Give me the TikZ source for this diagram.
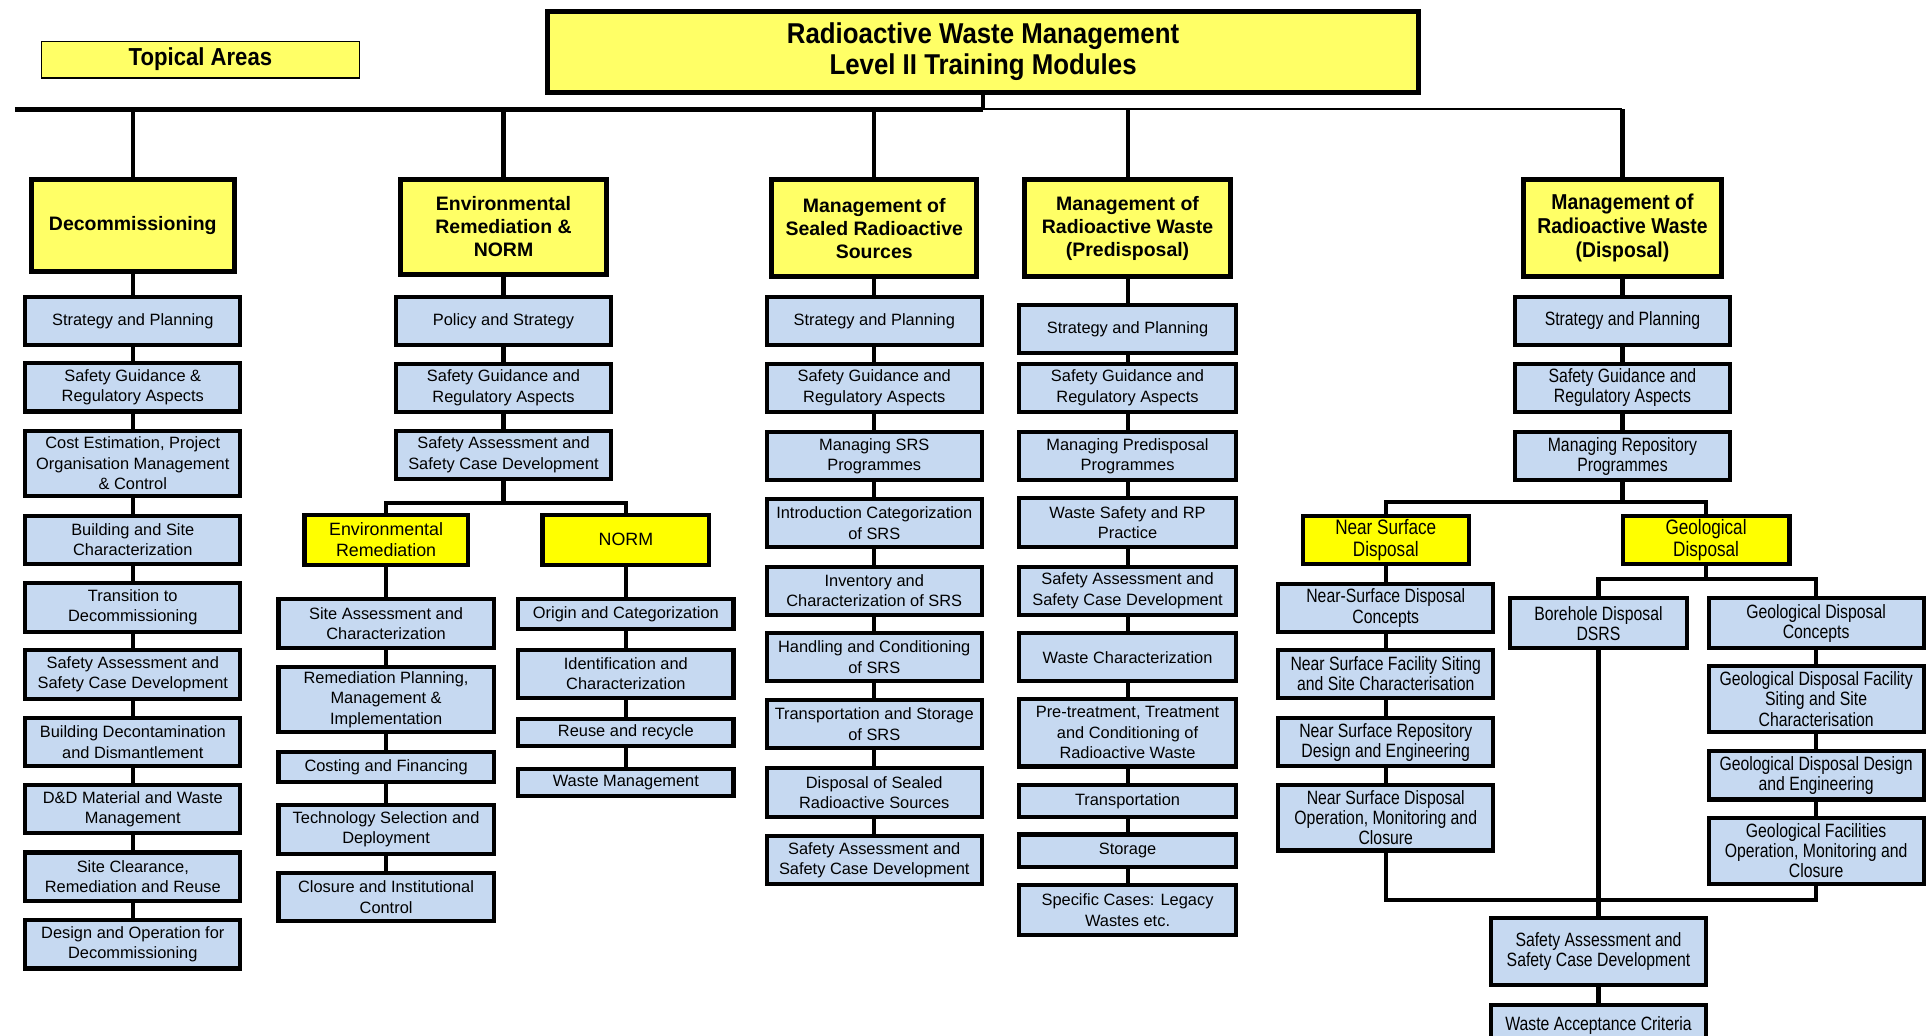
\documentclass[tikz,border=0pt]{standalone}
\usepackage{fontspec}
\setmainfont{Liberation Sans}
\newfontfamily\narrowfont{Liberation Sans}[FakeStretch=0.82]
\newfontfamily\titlefamily{Liberation Sans}[FakeStretch=0.9]
\definecolor{modblue}{RGB}{198,217,241}
\definecolor{topyellow}{RGB}{255,255,102}
\definecolor{subyellow}{RGB}{255,255,0}
\tikzset{
  module/.style={draw, line width=2pt, fill=modblue, align=center, inner sep=1pt,
    minimum width=105pt, font=\fontsize{8}{10}\selectfont},
  repo/.style={module, font=\narrowfont\fontsize{9.4}{9.8}\selectfont},
  area/.style={draw, line width=2.4pt, fill=topyellow, align=center, inner sep=1pt,
    font=\fontsize{9.5}{11.2}\selectfont\bfseries},
  branch/.style={draw, line width=2pt, fill=subyellow, align=center, inner sep=1pt,
    font=\fontsize{8.7}{10.2}\selectfont},
  repobranch/.style={branch, font=\narrowfont\fontsize{10.2}{10.6}\selectfont},
  rows1/.style={minimum height=14.5pt},
  rows2/.style={minimum height=23.6pt},
  rows3/.style={minimum height=32pt},
  link/.style={line width=2pt}
}
\begin{document}
\begin{tikzpicture}[x=0.6pt, y=-0.6pt]
\useasboundingbox (0,0) rectangle (1568,842);

\node[draw, line width=2.4pt, fill=topyellow, minimum width=425pt, minimum height=39.6pt, align=center,
  font=\titlefamily\fontsize{14}{15}\selectfont\bfseries] (title) at (799.5,42)
  {Radioactive Waste Management\\Level II Training Modules};
\node[draw, line width=0.6pt, fill=topyellow, minimum width=155.4pt, minimum height=16.8pt,
  font=\titlefamily\fontsize{12}{14}\selectfont\bfseries] (legend) at (163,48.5) {Topical Areas};

% topical areas
\node[area, minimum width=99pt, minimum height=45pt] (h1) at (108,183.5) {Decommissioning};
\node[area, minimum width=100.2pt, minimum height=46.2pt] (h2) at (409.5,184.5) {Environmental\\Remediation \&\\NORM};
\node[area, minimum width=100.2pt, minimum height=47.4pt] (h3) at (711,185.5) {Management of\\Sealed Radioactive\\Sources};
\node[area, minimum width=100.8pt, minimum height=47.4pt] (h4) at (917,185.5) {Management of\\Radioactive Waste\\(Predisposal)};
\node[area, minimum width=96.6pt, minimum height=47.4pt,
  font=\titlefamily\fontsize{10.5}{11.8}\selectfont\bfseries] (h5) at (1319.5,185.5) {Management of\\Radioactive Waste\\(Disposal)};

\coordinate (busL) at (12,89);
\coordinate (busM) at (799.5,89);
\coordinate (busR) at (1319.5,89);
\draw[line width=2.4pt] (busL) -- (busM);
\draw[line width=1pt] (busM) -- (busR);
\draw[link] (title) -- (busM);
\draw[link] (busR) -- (h5);
\foreach \h in {h1,h2,h3,h4}
  \draw[link] (\h.north |- busL) -- (\h);

% decommissioning
\node[module, rows2] (d1) at (108,261) {Strategy and Planning};
\node[module, rows2] (d2) at (108,315) {Safety Guidance \&\\Regulatory Aspects};
\node[module, rows3] (d3) at (108,377) {Cost Estimation, Project\\Organisation Management\\\& Control};
\node[module, rows2] (d4) at (108,439) {Building and Site\\Characterization};
\node[module, rows2] (d5) at (108,494) {Transition to\\Decommissioning};
\node[module, rows2] (d6) at (108,548.5) {Safety Assessment and\\Safety Case Development};
\node[module, rows2] (d7) at (108,603.5) {Building Decontamination\\and Dismantlement};
\node[module, rows2] (d8) at (108,658) {D\&D Material and Waste\\Management};
\node[module, rows2] (d9) at (108,713) {Site Clearance,\\Remediation and Reuse};
\node[module, rows2] (d10) at (108,768) {Design and Operation for\\Decommissioning};
\foreach \a/\b in {h1/d1,d1/d2,d2/d3,d3/d4,d4/d5,d5/d6,d6/d7,d7/d8,d8/d9,d9/d10}
  \draw[link] (\a) -- (\b);

% environmental remediation and NORM
\node[module, rows2] (e1) at (409.5,261) {Policy and Strategy};
\node[module, rows2] (e2) at (409.5,315.5) {Safety Guidance and\\Regulatory Aspects};
\node[module, rows2] (e3) at (409.5,370) {Safety Assessment and\\Safety Case Development};
\node[branch, minimum width=79.6pt, minimum height=24.4pt] (er) at (314,439) {Environmental\\Remediation};
\node[branch, minimum width=81.4pt, minimum height=24.4pt] (nm) at (509,439) {NORM};
\coordinate (esplit) at (409.5,409);
\foreach \a/\b in {h2/e1,e1/e2,e2/e3,e3/esplit}
  \draw[link] (\a) -- (\b);
\draw[link] (er.north) |- (esplit) -| (nm.north);

\node[module, rows2] (r1) at (314,507) {Site Assessment and\\Characterization};
\node[module, rows3] (r2) at (314,569) {Remediation Planning,\\Management \&\\Implementation};
\node[module, minimum height=14.8pt] (r3) at (314,624) {Costing and Financing};
\node[module, rows2] (r4) at (314,674.5) {Technology Selection and\\Deployment};
\node[module, rows2] (r5) at (314,729.5) {Closure and Institutional\\Control};
\node[module, rows1] (n1) at (509,499.5) {Origin and Categorization};
\node[module, rows2] (n2) at (509,548) {Identification and\\Characterization};
\node[module, minimum height=13pt] (n3) at (509,595.5) {Reuse and recycle};
\node[module, minimum height=13pt] (n4) at (509,636.5) {Waste Management};
\foreach \a/\b in {er/r1,r1/r2,r2/r3,r3/r4,r4/r5,nm/n1,n1/n2,n2/n3,n3/n4}
  \draw[link] (\a) -- (\b);

% sealed radioactive sources
\node[module, rows2] (s1) at (711,261) {Strategy and Planning};
\node[module, rows2] (s2) at (711,315.5) {Safety Guidance and\\Regulatory Aspects};
\node[module, rows2] (s3) at (711,371) {Managing SRS\\Programmes};
\node[module, rows2] (s4) at (711,425.5) {Introduction Categorization\\of SRS};
\node[module, rows2] (s5) at (711,480.5) {Inventory and\\Characterization of SRS};
\node[module, rows2] (s6) at (711,534.5) {Handling and Conditioning\\of SRS};
\node[module, rows2] (s7) at (711,589) {Transportation and Storage\\of SRS};
\node[module, rows2] (s8) at (711,644.5) {Disposal of Sealed\\Radioactive Sources};
\node[module, rows2] (s9) at (711,699.5) {Safety Assessment and\\Safety Case Development};
\foreach \a/\b in {h3/s1,s1/s2,s2/s3,s3/s4,s4/s5,s5/s6,s6/s7,s7/s8,s8/s9}
  \draw[link] (\a) -- (\b);

% predisposal
\node[module, rows2, minimum width=106pt] (p1) at (917,267.5) {Strategy and Planning};
\node[module, rows2, minimum width=106pt] (p2) at (917,315.5) {Safety Guidance and\\Regulatory Aspects};
\node[module, rows2, minimum width=106pt] (p3) at (917,371) {Managing Predisposal\\Programmes};
\node[module, rows2, minimum width=106pt] (p4) at (917,425) {Waste Safety and RP\\Practice};
\node[module, rows2, minimum width=106pt] (p5) at (917,480.5) {Safety Assessment and\\Safety Case Development};
\node[module, rows2, minimum width=106pt] (p6) at (917,534.5) {Waste Characterization};
\node[module, minimum height=32.8pt, minimum width=106pt] (p7) at (917,596) {Pre-treatment, Treatment\\and Conditioning of\\Radioactive Waste};
\node[module, minimum height=15.4pt, minimum width=106pt] (p8) at (917,651.5) {Transportation};
\node[module, minimum height=16pt, minimum width=106pt] (p9) at (917,692) {Storage};
\node[module, minimum height=24.4pt, minimum width=106pt] (p10) at (917,740) {Specific Cases: Legacy\\Wastes etc.};
\foreach \a/\b in {h4/p1,p1/p2,p2/p3,p3/p4,p4/p5,p5/p6,p6/p7,p7/p8,p8/p9,p9/p10}
  \draw[link] (\a) -- (\b);

% disposal
\node[repo, rows2] (q1) at (1319.5,261) {Strategy and Planning};
\node[repo, rows2] (q2) at (1319.5,315.5) {Safety Guidance and\\Regulatory Aspects};
\node[repo, rows2] (q3) at (1319.5,371) {Managing Repository\\Programmes};
\node[repobranch, minimum width=80.8pt, minimum height=23.2pt] (ns) at (1127,439) {Near Surface\\Disposal};
\node[repobranch, minimum width=81.4pt, minimum height=23.2pt] (geo) at (1387.5,439) {Geological\\Disposal};
\coordinate (qsplit) at (1319.5,408);
\foreach \a/\b in {h5/q1,q1/q2,q2/q3,q3/qsplit}
  \draw[link] (\a) -- (\b);
\draw[link] (ns.north) |- (qsplit) -| (geo.north);

\node[repo, rows2] (a1) at (1127,494.5) {Near-Surface Disposal\\Concepts};
\node[repo, rows2] (a2) at (1127,548) {Near Surface Facility Siting\\and Site Characterisation};
\node[repo, rows2] (a3) at (1127,603.5) {Near Surface Repository\\Design and Engineering};
\node[repo, rows3] (a4) at (1127,665) {Near Surface Disposal\\Operation, Monitoring and\\Closure};
\foreach \a/\b in {ns/a1,a1/a2,a2/a3,a3/a4}
  \draw[link] (\a) -- (\b);

\node[repo, minimum width=86.8pt, minimum height=24.4pt] (bh) at (1300,507) {Borehole Disposal\\DSRS};
\node[repo, minimum height=24.4pt] (g1) at (1477,507) {Geological Disposal\\Concepts};
\node[repo, minimum height=32.2pt] (g2) at (1477,568.5) {Geological Disposal Facility\\Siting and Site\\Characterisation};
\node[repo, rows2] (g3) at (1477,630.5) {Geological Disposal Design\\and Engineering};
\node[repo, rows3] (g4) at (1477,692) {Geological Facilities\\Operation, Monitoring and\\Closure};
\coordinate (gsplit) at (1387.5,471);
\draw[link] (geo) -- (gsplit);
\draw[link] (bh.north) |- (gsplit) -| (g1.north);
\foreach \a/\b in {g1/g2,g2/g3,g3/g4}
  \draw[link] (\a) -- (\b);

\node[repo, minimum width=104.8pt, minimum height=32.8pt] (sa) at (1300,774) {Safety Assessment and\\Safety Case Development};
\node[repo, minimum width=104.8pt, minimum height=19.6pt] (wac) at (1300,834) {Waste Acceptance Criteria};
\coordinate (join) at (1300,732);
\draw[link] (a4.south) |- (join) -| (g4.south);
\draw[link] (bh) -- (sa);
\draw[link] (sa) -- (wac);
\end{tikzpicture}
\end{document}
